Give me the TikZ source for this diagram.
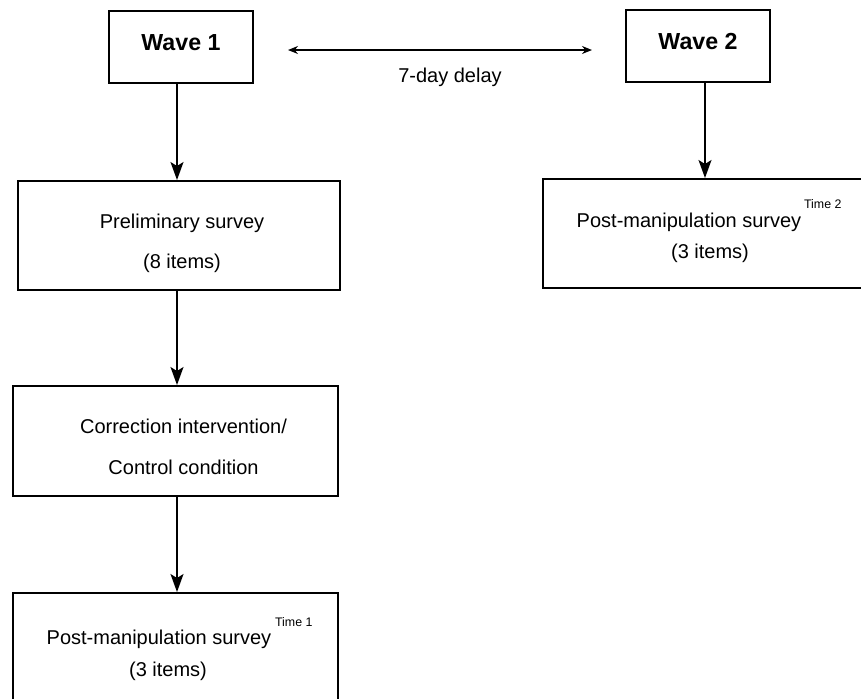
\documentclass[tikz,border=0pt]{standalone}
\usepackage{fontspec}
\setmainfont{Liberation Sans}
\usetikzlibrary{arrows.meta}

\tikzset{
  stagebox/.style={draw, line width=1pt, inner sep=0pt},
  wavebox/.style={stagebox, minimum width=72pt, minimum height=36pt,
    font=\fontsize{11.6}{14}\selectfont\bfseries, text depth=4.5pt},
  itemtext/.style={inner sep=0pt, anchor=base, font=\fontsize{10}{12}\selectfont},
  supnote/.style={inner sep=0pt, anchor=base west, font=\fontsize{6.2}{7}\selectfont},
  flow/.style={line width=0.7pt, -{Stealth[length=9pt, width=6.5pt, inset=2pt]}},
  delayarrow/.style={line width=0.7pt, {Stealth[length=5pt, width=4pt]}-{Stealth[length=5pt, width=4pt]}},
}

\begin{document}
\begin{tikzpicture}[x=0.5pt, y=-0.5pt]
     \useasboundingbox (0,0) rectangle (861,698);
     \clip (0,0) rectangle (861,698);
     \coordinate (colL) at (177,0);
     \coordinate (colR) at (705,0);

     \node[wavebox] (w1) at (181,47) {Wave 1};
     \node[wavebox] (w2) at (698,45.5) {Wave 2};
     \draw[delayarrow, shorten <=17pt, shorten >=16.5pt] ([yshift=-1.5pt]w1.east) -- ([yshift=-1.5pt]w1.east -| w2.west);
     \node[itemtext] (delay) at (450,82) {7-day delay};

     \node[stagebox, minimum width=161pt, minimum height=54.5pt] (pre) at (179,235.5) {};
     \node[itemtext] (pretitle) at (182,228) {Preliminary survey};
     \node[itemtext] (preitems) at (182,268) {(8 items)};

     \node[stagebox, minimum width=162.5pt, minimum height=55pt] (corr) at (175.5,441) {};
     \node[itemtext] (corrtitle) at (183.5,433) {Correction intervention/};
     \node[itemtext] (corrcond) at (183.5,474) {Control condition};

     \node[stagebox, minimum width=162.5pt, minimum height=65pt] (t1) at (175.5,658) {};
     \node[itemtext] (t1main) at (159,644) {Post-manipulation survey};
     \node[supnote] (t1sup) at ([xshift=1.5pt, yshift=9pt]t1main.base east) {Time 1};
     \node[itemtext] (t1items) at (168,676) {(3 items)};

     \node[stagebox, minimum width=166pt, minimum height=54.5pt] (t2) at (709,233.5) {};
     \node[itemtext] (t2main) at (689,227) {Post-manipulation survey};
     \node[supnote] (t2sup) at ([xshift=1pt, yshift=9.5pt]t2main.base east) {Time 2};
     \node[itemtext] (t2items) at (710,258) {(3 items)};

     \draw[flow] (w1.south -| colL) -- (pre.north -| colL);
     \draw[flow] (pre.south -| colL) -- (corr.north -| colL);
     \draw[flow] (corr.south -| colL) -- (t1.north -| colL);
     \draw[flow] (w2.south -| colR) -- (t2.north -| colR);
\end{tikzpicture}
\end{document}
